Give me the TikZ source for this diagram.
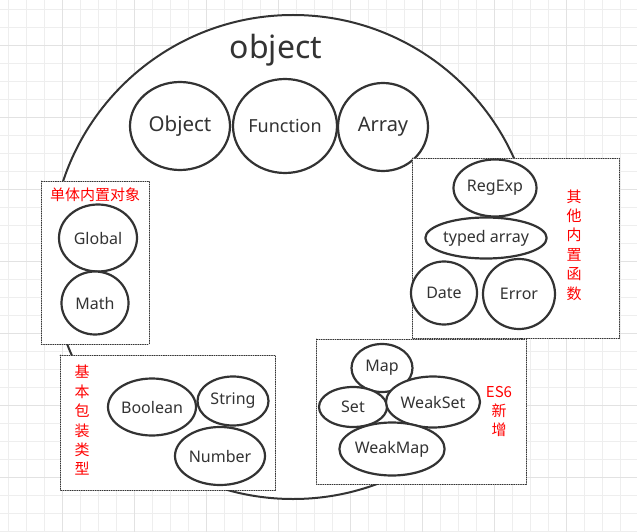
\documentclass[tikz,border=0pt]{standalone}
\usepackage{fontspec}
\setmainfont{Noto Sans}
\newfontfamily\cjk{Noto Sans CJK SC}
\usetikzlibrary{shapes.geometric}
\definecolor{ink}{HTML}{333333}
\definecolor{gridlo}{HTML}{EEEEEE}
\definecolor{gridhi}{HTML}{E2E2E2}

\begin{document}
\begin{tikzpicture}[x=1pt, y=-1pt, line cap=round, line join=round,
  gridminor/.style={draw=gridlo, line width=0.9pt},
  gridmajor/.style={draw=gridhi, line width=0.9pt},
  bubble/.style={ellipse, draw=ink, line width=2.2pt, fill=white, inner sep=0pt,
    text=ink, font=\fontsize{16}{19}\selectfont},
  group/.style={draw=ink, line width=0.9pt, dash pattern=on 0.9pt off 1.4pt, fill=white},
  tag/.style={text=red, font=\cjk\fontsize{15}{19.4}\selectfont, align=center, inner sep=0pt}]
  \useasboundingbox (0,0) rectangle (637,532);

  % background grid
  \foreach \k in {0,...,34} \draw[gridminor] (8.3+18*\k,0) -- (8.3+18*\k,532);
  \foreach \k in {0,...,29} \draw[gridminor] (0,9.3+18*\k) -- (637,9.3+18*\k);
  \foreach \k in {0,...,7} \draw[gridmajor] (62.3+72*\k,0) -- (62.3+72*\k,532);
  \foreach \k in {0,...,6} \draw[gridmajor] (0,45.3+72*\k) -- (637,45.3+72*\k);

  % the big object circle
  \draw[draw=ink, line width=2pt, fill=white] (293,257) circle (242pt);
  \node[text=ink, font=\fontsize{32}{38}\selectfont] (title) at (276,50) {object};

  \node[bubble, minimum width=100pt, minimum height=88pt, font=\fontsize{20.5}{24}\selectfont] (object) at (180,126) {Object};
  \node[bubble, minimum width=104pt, minimum height=94pt, font=\fontsize{18}{22}\selectfont] (function) at (285,126) {Function};
  \node[bubble, minimum width=90pt, minimum height=88pt, font=\fontsize{20}{24}\selectfont] (array) at (383,127) {Array};

  % singleton built-ins
  \draw[group] (41,181) rectangle (149,344);
  \node[tag] (singleton) at (95,195) {单体内置对象};
  \node[bubble, minimum width=78pt, minimum height=67pt] (global) at (98,238) {Global};
  \node[bubble, minimum width=67pt, minimum height=63pt] (math) at (95,303) {Math};

  % other built-in functions
  \draw[group] (412,158) rectangle (619,338);
  \node[tag] (others) at (574,245) {其\\他\\内\\置\\函\\数};
  \node[bubble, minimum width=83pt, minimum height=57pt] (regexp) at (495,188) {RegExp};
  \node[bubble, minimum width=118pt, minimum height=41pt] (typed) at (486,238) {typed array};
  \node[bubble, minimum width=66pt, minimum height=63pt] (date) at (444,293) {Date};
  \node[bubble, minimum width=72pt, minimum height=70pt] (error) at (519,294) {Error};

  % primitive wrappers
  \draw[group] (60,355) rectangle (275,490);
  \node[tag] (wrappers) at (82,420.5) {基\\本\\包\\装\\类\\型};
  \node[bubble, minimum width=88pt, minimum height=57pt] (boolean) at (152,407) {Boolean};
  \node[bubble, minimum width=71pt, minimum height=49pt] (string) at (233,401) {String};
  \node[bubble, minimum width=90pt, minimum height=58pt] (number) at (220,456) {Number};

  % ES6 additions
  \draw[group] (316,339) rectangle (526,484);
  \node[tag] (es6) at (499,411.5) {ES6\\新\\增};
  \node[bubble, minimum width=61pt, minimum height=48pt] (map) at (382,368) {Map};
  \node[bubble, minimum width=68pt, minimum height=40pt] (set) at (353,407) {Set};
  \node[bubble, minimum width=94pt, minimum height=51pt] (weakset) at (433,402) {WeakSet};
  \node[bubble, minimum width=102pt, minimum height=53pt] (weakmap) at (392,449) {WeakMap};
\end{tikzpicture}
\end{document}
